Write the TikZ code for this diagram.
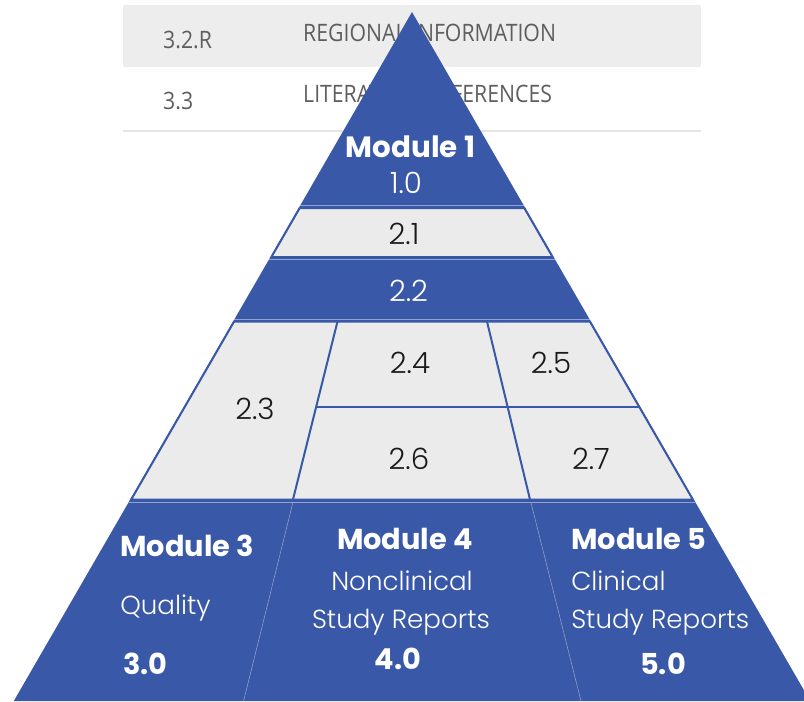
\documentclass[tikz,border=0pt]{standalone}
\usepackage{fontspec}
\setmainfont{Poppins}
\newfontfamily\plight{Poppins Light}
\newfontfamily\tabfont{Open Sans}
\definecolor{pblue}{HTML}{3A58A8}
\definecolor{cellgrey}{HTML}{EBEBEB}
\definecolor{rowgrey}{HTML}{EDEDED}
\definecolor{ruleg}{HTML}{E6E6E6}
\definecolor{tabtext}{HTML}{5E5E5E}
\definecolor{darktext}{HTML}{1A1A1A}
\tikzset{
  cell/.style={fill=cellgrey,draw=pblue,line width=1.5pt,line join=miter},
  divider/.style={draw=pblue,line width=1.5pt},
  sepline/.style={draw=pblue!55!white,line width=0.6pt},
  faint/.style={draw=pblue!55!white,line width=0.4pt},
  modtitle/.style={font=\fontsize{21.6}{25}\selectfont\bfseries,text=white,inner sep=0pt},
  modsub/.style={font=\plight\fontsize{19.6}{23}\selectfont,text=white,inner sep=0pt},
  modnum/.style={font=\fontsize{21.6}{25}\selectfont\bfseries,text=white,inner sep=0pt},
  numdark/.style={font=\plight\fontsize{22}{26}\selectfont,text=darktext,inner sep=0pt},
  numwhite/.style={font=\plight\fontsize{22}{26}\selectfont,text=white,inner sep=0pt},
  tabtxt/.style={font=\tabfont\fontsize{18}{21}\selectfont,text=tabtext,inner sep=0pt,xscale=0.885}
}
\begin{document}
\begin{tikzpicture}[x=0.75pt,y=-0.75pt]
\useasboundingbox (0,0) rectangle (804,701);
% background table
\fill[rowgrey] (123,5) rectangle (701,67);
\draw[ruleg,line width=2.2pt] (123,131) -- (701,131);
\node[tabtxt,anchor=base west] (t1) at (163,48) {3.2.R};
\node[tabtxt,anchor=base west] (t2) at (303,41) {REGIONAL INFORMATION};
\node[tabtxt,anchor=base west] (t3) at (163,109) {3.3};
\node[tabtxt,anchor=base west] (t4) at (303,102) {LITERATURE REFERENCES};
% pyramid body
\fill[pblue] (412,12) -- (810.2,701) -- (13.8,701) -- cycle;
% 2.1 band
\path[cell] (299.7,208) -- (524.3,208) -- (552.6,257) -- (271.4,257) -- cycle;
% grey region 2.3 - 2.7
\path[cell] (234.1,321.5) -- (589.9,321.5) -- (692.8,499.5) -- (131.2,499.5) -- cycle;
\draw[divider] (337.5,321.5) -- (293,499.5);
\draw[divider] (487,321.5) -- (530,499.5);
\draw[divider] (316,407) -- (639.3,407);
% separator lines
\draw[sepline] (300.2,205.5) -- (523.8,205.5);
\draw[sepline] (268.9,259.5) -- (555.1,259.5);
\draw[sepline] (234.3,319.5) -- (589.7,319.5);
\draw[sepline] (128.8,502) -- (695.2,502);
% faint bottom dividers
\draw[faint] (293,502) -- (243.6,701);
\draw[faint] (530.8,502) -- (581,701);
% texts
\node[modtitle,font=\fontsize{22}{26}\selectfont\bfseries,anchor=base] (m1) at (410.5,157) {Module 1};
\node[numwhite,anchor=base] (n10) at (406,193) {1.0};
\node[numdark,anchor=base] (n21) at (404,244) {2.1};
\node[numwhite,anchor=base] (n22) at (408.5,301) {2.2};
\node[numdark,anchor=base] (n23) at (255,419) {2.3};
\node[numdark,anchor=base] (n24) at (410,373) {2.4};
\node[numdark,anchor=base] (n25) at (551,373) {2.5};
\node[numdark,anchor=base] (n26) at (409,469) {2.6};
\node[numdark,anchor=base] (n27) at (591,469) {2.7};
\node[modtitle,anchor=base west] (m3) at (120,556) {Module 3};
\node[modsub,anchor=base west] (q3) at (120,614) {Quality};
\node[modnum,anchor=base west] (n3) at (123,674) {3.0};
\node[modtitle,anchor=base] (m4) at (405,549) {Module 4};
\node[modsub,anchor=base] (s4a) at (402,590) {Nonclinical};
\node[modsub,anchor=base] (s4b) at (401,628) {Study Reports};
\node[modnum,anchor=base] (n4) at (398,669) {4.0};
\node[modtitle,anchor=base west] (m5) at (571,549) {Module 5};
\node[modsub,anchor=base west] (s5a) at (571,590) {Clinical};
\node[modsub,anchor=base west] (s5b) at (571,628) {Study Reports};
\node[modnum,anchor=base] (n5) at (663,674) {5.0};
\end{tikzpicture}
\end{document}
